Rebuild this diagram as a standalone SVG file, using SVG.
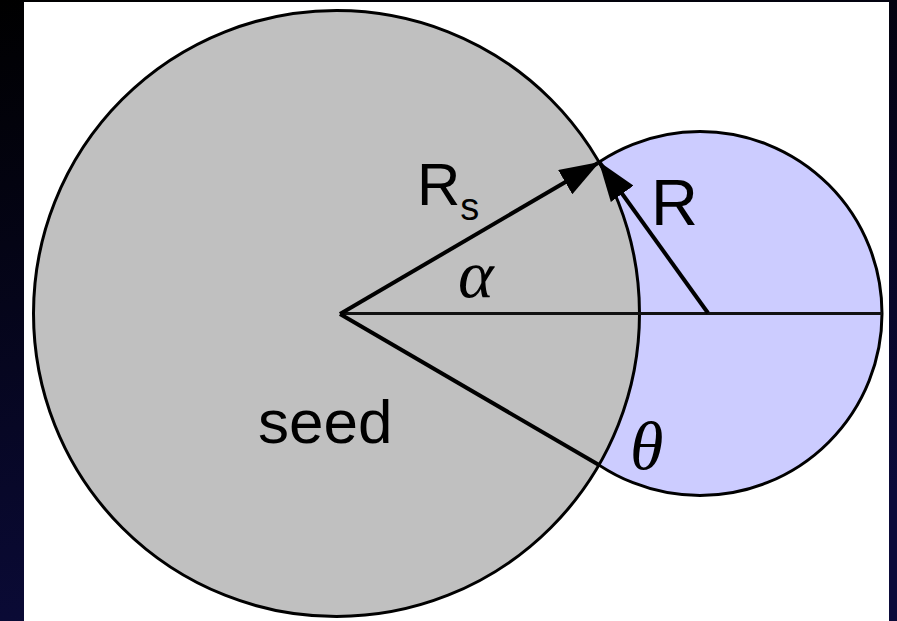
<svg xmlns="http://www.w3.org/2000/svg" width="897" height="621" viewBox="0 0 897 621">
<style>
.sans{font-family:"Liberation Sans",Arial,sans-serif;fill:#000}
.greek{font-family:"Liberation Serif","Times New Roman",serif;font-style:italic;fill:#000}
.circ{stroke:#000;stroke-width:3}
.arrow{stroke:#000;stroke-width:4;fill:none}
</style>
<defs>
<linearGradient id="bg" x1="0" y1="0" x2="0.3" y2="1">
<stop offset="0" stop-color="#000000"/>
<stop offset="1" stop-color="#0b0b3a"/>
</linearGradient>
<marker id="ah" markerUnits="userSpaceOnUse" viewBox="0 0 40 28" refX="38" refY="14" markerWidth="40" markerHeight="28" orient="auto">
<path d="M0,0 L40,14 L0,28 Z" fill="#000"/>
</marker>
</defs>
<rect x="0" y="0" width="897" height="621" fill="url(#bg)"/>
<rect x="24" y="2" width="865" height="619" fill="#fff"/>
<g id="small-circle"><circle class="circ" cx="700" cy="313.5" r="182" fill="#ccccff"/></g>
<g id="seed"><circle class="circ" cx="336.5" cy="313.5" r="303" fill="#c0c0c0"/>
<text class="sans" x="258" y="443" font-size="62">seed</text></g>
<g id="connectors">
<line x1="340" y1="313.5" x2="882" y2="313.5" stroke="#111" stroke-width="3"/>
<line class="arrow" x1="340" y1="314" x2="598" y2="163" marker-end="url(#ah)"/>
<line class="arrow" x1="708" y1="313" x2="600" y2="163" marker-end="url(#ah)"/>
<line class="arrow" x1="340" y1="314" x2="599" y2="465"/>
</g>
<g id="labels">
<text class="sans" x="417" y="205" font-size="60">R<tspan font-size="38" dy="15">s</tspan></text>
<text class="sans" x="651" y="225" font-size="65">R</text>
<text class="greek" x="458" y="297" font-size="68">α</text>
<text class="greek" x="630" y="469" font-size="68">θ</text>
</g>
</svg>
